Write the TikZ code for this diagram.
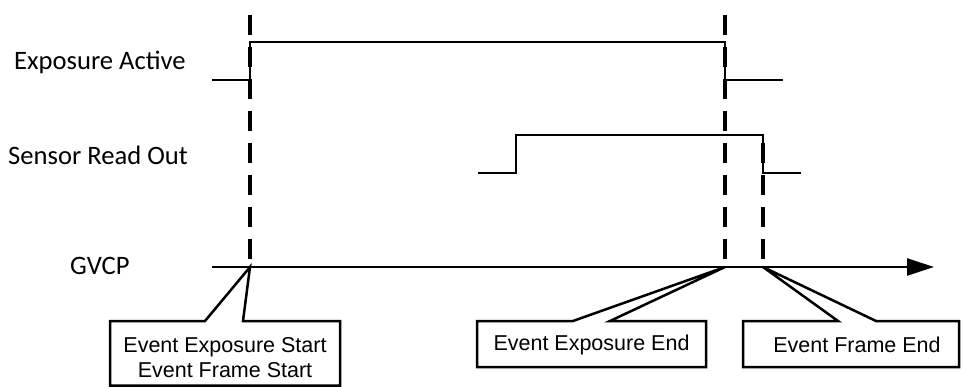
\documentclass[tikz,border=0pt]{standalone}
\usepackage{fontspec}
\setmainfont{Carlito}
\newfontfamily\boxfont{Liberation Sans}
\usetikzlibrary{arrows.meta}
\begin{document}
\begin{tikzpicture}[x=1pt,y=-1pt,
  sig/.style={line width=2.5pt,line cap=butt,line join=miter},
  vdash/.style={line width=3.5pt,dash pattern=on 20pt off 12pt},
  lab/.style={anchor=west,inner sep=0pt,font=\fontsize{26.6}{30}\selectfont},
  evtext/.style={inner sep=0pt,align=center,font=\boxfont\fontsize{21.5}{25}\selectfont},
  callout/.style={line width=2.5pt,line join=miter}]
\useasboundingbox (0,0) rectangle (961,387);
% labels
\node[lab] (lexp) at (14,62) {Exposure Active};
\node[lab] (lsen) at (8,155) {Sensor Read Out};
\node[lab] (lgv) at (70,266) {GVCP};
% time references
\coordinate (t1) at (250,267);
\coordinate (t2) at (725,267);
\coordinate (t3) at (763,267);
% dashed markers
\draw[vdash] (250,15) -- (250,262);
\draw[vdash] (725,15) -- (725,262);
\draw[vdash] (763,143) -- (763,262);
% Exposure Active signal
\draw[sig] (212,80) -- (250,80) -- (250,42) -- (725,42) -- (725,80) -- (783,80);
% Sensor Read Out signal
\draw[sig] (478,173) -- (516,173) -- (516,135) -- (763,135) -- (763,173) -- (801,173);
% GVCP axis
\coordinate (ax0) at (212,267);
\coordinate (ax1) at (934,267);
\draw[line width=2.5pt,-{Triangle[length=27pt,width=17pt]}] (ax0) -- (ax1);
% callout 1
\coordinate (b1nw) at (110,321);
\coordinate (b1se) at (340,385.5);
\draw[callout] (b1nw) -- (205,321) -- (t1) -- (243,321) -- (b1se |- b1nw) -- (b1se) -- (b1nw |- b1se) -- cycle;
\node[evtext] (e1) at (225,357.5) {Event Exposure Start\\Event Frame Start};
% callout 2
\coordinate (b2nw) at (477,321);
\coordinate (b2se) at (706,367);
\draw[callout] (b2nw) -- (573,321) -- (t2) -- (610,321) -- (b2se |- b2nw) -- (b2se) -- (b2nw |- b2se) -- cycle;
\node[evtext] (e2) at (591.5,345) {Event Exposure End};
% callout 3
\coordinate (b3nw) at (743,321);
\coordinate (b3se) at (959,367);
\draw[callout] (b3nw) -- (838,321) -- (t3) -- (876,321) -- (b3se |- b3nw) -- (b3se) -- (b3nw |- b3se) -- cycle;
\node[evtext] (e3) at (857,345) {Event Frame End};
\end{tikzpicture}
\end{document}
